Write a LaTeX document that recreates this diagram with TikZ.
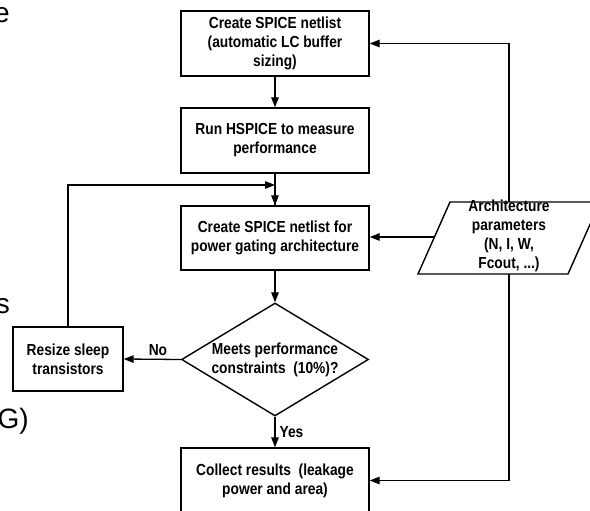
\documentclass[tikz,border=0pt]{standalone}
\usepackage{fontspec}
\setmainfont{Liberation Sans}
\newfontfamily\df[FakeStretch=0.86]{Liberation Sans}
\usetikzlibrary{arrows.meta,shapes.geometric}
\begin{document}
\begin{tikzpicture}[x=1pt,y=-1pt,
  every node/.style={inner sep=0pt},
  lbl/.style={font=\df\bfseries\fontsize{16}{19}\selectfont, align=center},
  box/.style={draw, line width=1.4pt, minimum width=188pt, minimum height=65pt, lbl},
  conn/.style={line width=1.3pt},
  arr/.style={conn, -{Triangle[length=10pt,width=7.5pt]}},
  stray/.style={font=\fontsize{28}{30}\selectfont, anchor=base east}]
\useasboundingbox (0,0) rectangle (590,511);
\clip (0,0) rectangle (590,511);
% stray text from the slide
\node[stray] (s1) at (10,23) {e};
\node[stray] (s2) at (10,313) {s};
\node[stray] (s3) at (29,428) {G)};
% boxes
\node[box] (b1) at (275,43.5) {Create SPICE netlist\\(automatic LC buffer\\sizing)};
\node[box] (b2) at (275,140.5) {Run HSPICE to measure\\performance};
\node[box, minimum height=64pt] (b3) at (275,238) {Create SPICE netlist for\\power gating architecture};
\node[draw, diamond, line width=1.4pt, minimum width=187pt, minimum height=113pt, aspect=1.65] (dec) at (275,359.5) {};
\node[lbl] (dect) at (275,359.5) {Meets performance\\constraints~ (10\%)?};
\node[box, minimum width=110pt, minimum height=64pt] (rs) at (68,359) {Resize sleep\\transistors};
\node[box] (col) at (275,480.5) {Collect results~ (leakage\\power and area)};
% parallelogram
\coordinate (ptl) at (450,202);
\coordinate (ptr) at (600,202);
\coordinate (pbr) at (568,274);
\coordinate (pbl) at (418,274);
\draw[line width=1.4pt] (ptl) -- (ptr) -- (pbr) -- (pbl) -- cycle;
\node[lbl] (par) at (509,236) {Architecture\\parameters\\(N, I, W,\\Fcout, ...)};
\coordinate (ptop) at (509,202);
\coordinate (pbot) at (509,274);
\coordinate (pleft) at (434.4,237);
\coordinate (j) at (275,185);
% connectors
\draw[arr] (b1) -- (b2);
\draw[conn] (b2) -- (b3);
\draw[arr] (j) -- (b3.north);
\draw[arr] (rs.north) |- (j);
\draw[arr] (b3) -- (dec);
\draw[arr] (dec.west) -- (rs.east) node[lbl, pos=0.4, above=3pt] (no) {No};
\draw[arr] (dec.south) -- (col.north) node[lbl, midway, right=4pt] (yes) {Yes};
\draw[arr] (pleft) -- (pleft -| b3.east);
\draw[arr] (ptop) |- (b1.east);
\draw[arr] (pbot) |- (col.east);
\end{tikzpicture}
\end{document}
